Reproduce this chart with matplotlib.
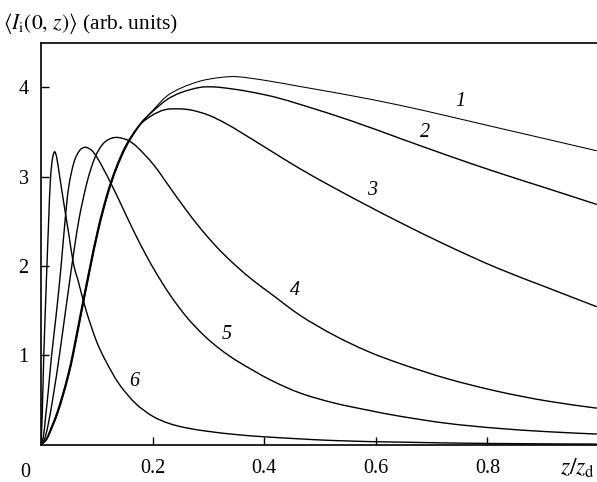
import numpy as np
import matplotlib
matplotlib.use("Agg")
import matplotlib.pyplot as plt
from matplotlib.path import Path
from matplotlib.patches import PathPatch

# values (z / z_d, intensity in arb. units)
z1 = [0, 0.01, 0.022, 0.03, 0.04, 0.05, 0.058, 0.073, 0.088, 0.104, 0.12, 0.135, 0.155,
      0.18, 0.2, 0.225, 0.25, 0.285, 0.32, 0.35, 0.4, 0.464, 0.554, 0.643, 0.728,
      0.817, 0.907, 0.996]
v1 = [0, 0.06, 0.22, 0.35, 0.55, 0.78, 1.0, 1.48, 1.95, 2.42, 2.80, 3.08, 3.36,
      3.6, 3.74, 3.90, 3.99, 4.07, 4.11, 4.12, 4.08, 4.01, 3.91, 3.80, 3.68,
      3.55, 3.42, 3.29]

z2 = [0, 0.01, 0.021, 0.029, 0.039, 0.049, 0.057, 0.072, 0.087, 0.103, 0.119, 0.134, 0.154,
      0.179, 0.2, 0.225, 0.25, 0.285, 0.31, 0.34, 0.375, 0.42, 0.464, 0.554, 0.643, 0.728,
      0.817, 0.907, 0.996]
v2 = [0, 0.06, 0.22, 0.35, 0.55, 0.78, 1.0, 1.48, 1.95, 2.42, 2.80, 3.08, 3.36,
      3.6, 3.73, 3.86, 3.94, 4.0, 4.005, 3.985, 3.95, 3.89, 3.81, 3.63, 3.43, 3.24,
      3.05, 2.87, 2.69]

z3 = [0, 0.009, 0.02, 0.028, 0.038, 0.048, 0.056, 0.071, 0.086, 0.102, 0.118, 0.133, 0.152,
      0.177, 0.2, 0.222, 0.246, 0.27, 0.3, 0.33, 0.36, 0.404, 0.464, 0.524, 0.584,
      0.643, 0.728, 0.817, 0.907, 0.996]
v3 = [0, 0.06, 0.22, 0.35, 0.55, 0.78, 1.0, 1.48, 1.95, 2.42, 2.80, 3.08, 3.35,
      3.58, 3.69, 3.75, 3.76, 3.745, 3.69, 3.6, 3.49, 3.32, 3.09, 2.88, 2.68,
      2.49, 2.23, 1.98, 1.76, 1.545]

z4 = [0, 0.006, 0.012, 0.022, 0.033, 0.054, 0.068, 0.083, 0.097, 0.11, 0.122, 0.136, 0.155,
      0.171, 0.201, 0.231, 0.261, 0.29, 0.32, 0.35, 0.38, 0.41, 0.464, 0.524,
      0.584, 0.643, 0.728, 0.817, 0.907, 0.996]
v4 = [0, 0.06, 0.2, 0.55, 1.0, 1.95, 2.52, 2.95, 3.22, 3.36, 3.42, 3.44, 3.41,
      3.34, 3.14, 2.88, 2.62, 2.39, 2.18, 2.0, 1.84, 1.70, 1.45, 1.23,
      1.05, 0.91, 0.74, 0.60, 0.49, 0.41]

z5 = [0, 0.004, 0.008, 0.013, 0.019, 0.028, 0.036, 0.043, 0.05, 0.06, 0.07, 0.079,
      0.09, 0.1, 0.11, 0.125, 0.142, 0.171, 0.201, 0.231, 0.261, 0.291, 0.321,
      0.351, 0.41, 0.464, 0.524, 0.584, 0.643, 0.728, 0.817, 0.907, 0.996]
v5 = [0, 0.08, 0.3, 0.6, 1.0, 1.5, 2.0, 2.5, 2.9, 3.18, 3.3, 3.33,
      3.3, 3.22, 3.11, 2.93, 2.71, 2.33, 1.98, 1.68, 1.43, 1.23, 1.07,
      0.94, 0.73, 0.58, 0.47, 0.39, 0.32, 0.24, 0.185, 0.147, 0.12]

z6 = [0, 0.002, 0.005, 0.008, 0.0106, 0.014, 0.0172, 0.021, 0.0245, 0.028, 0.0335,
      0.042, 0.05, 0.059, 0.066, 0.081, 0.1, 0.115, 0.14, 0.17, 0.2, 0.229,
      0.26, 0.3, 0.349, 0.404, 0.524, 0.643, 0.8, 0.996]
v6 = [0, 0.3, 1.0, 1.55, 2.0, 2.55, 3.0, 3.22, 3.28, 3.22, 3.0,
      2.66, 2.35, 2.0, 1.85, 1.5, 1.15, 0.95, 0.68, 0.46, 0.32, 0.24,
      0.19, 0.15, 0.115, 0.088, 0.048, 0.03, 0.015, 0.008]

curves = [(z1, v1), (z2, v2), (z3, v3), (z4, v4), (z5, v5), (z6, v6)]
curve_names = ['1', '2', '3', '4', '5', '6']
name_pos = [(0.751, 3.84), (0.688, 3.49), (0.593, 2.85),
            (0.455, 1.73), (0.333, 1.23), (0.1675, 0.71)]
widths = [0.75, 1.0, 1.0, 1.0, 1.0, 1.0]

xticks = [0.2, 0.4, 0.6, 0.8]
xticklabels = ['0.2', '0.4', '0.6', '0.8']
yticks = [1, 2, 3, 4]


def smooth_path(zz, vv, sx=558.0, sy=89.4):
    # smooth curve through the read points (cubic Bezier pieces)
    P = np.column_stack([np.asarray(zz) * sx, np.asarray(vv) * sy])
    n = len(P)
    d = np.linalg.norm(np.diff(P, axis=0), axis=1)
    T = np.zeros_like(P)
    T[0] = (P[1] - P[0]) / d[0]
    T[-1] = (P[-1] - P[-2]) / d[-1]
    for i in range(1, n - 1):
        T[i] = (P[i + 1] - P[i - 1]) / (d[i - 1] + d[i])
    verts = [P[0]]
    codes = [Path.MOVETO]
    for i in range(n - 1):
        verts += [P[i] + T[i] * d[i] / 3, P[i + 1] - T[i + 1] * d[i] / 3, P[i + 1]]
        codes += [Path.CURVE4] * 3
    verts = np.array(verts) / [sx, sy]
    return Path(verts, codes)


plt.rcParams['font.family'] = ['Liberation Serif', 'DejaVu Serif']
plt.rcParams['mathtext.fontset'] = 'stix'

fig = plt.figure(figsize=(5.97, 4.82), dpi=100)
ax = fig.add_axes([41 / 597, 1 - 444.8 / 482, 1 - 41 / 597, (444.8 - 42.7) / 482])

for (zz, vv), lw in zip(curves, widths):
    ax.add_patch(PathPatch(smooth_path(zz, vv), fill=False, edgecolor='black',
                           lw=lw, transform=ax.transData, clip_on=True))

for name, (tx, ty) in zip(curve_names, name_pos):
    ax.text(tx, ty, name, fontsize=14.5, style='italic', ha='center', va='center')

ax.set_xlim(0, 0.9964)
ax.set_ylim(0, 4.5)
ax.set_xticks(xticks)
ax.set_xticklabels(xticklabels)
ax.set_yticks(yticks)
ax.tick_params(direction='in', length=6, width=1.0, labelsize=14.5)
ax.tick_params(axis='x', pad=10)
ax.tick_params(axis='y', pad=9)
ax.spines['right'].set_visible(False)
for s in ['left', 'bottom', 'top']:
    ax.spines[s].set_linewidth(1.2)

# corner zero and axis titles
ax.text(-0.029, -0.069, '0', transform=ax.transAxes, fontsize=14.5,
        ha='center', va='center')
ax.text(0.93, -0.33, r'$z/z_{\rm d}$', fontsize=17, ha='left', va='baseline',
        clip_on=False)
fig.text(0.005, 1 - 28.5 / 482, r'$\langle I_{\rm i}(0,\,z)\rangle$ (arb. units)',
         fontsize=15.5, ha='left', va='baseline')

fig.savefig('out.png', dpi=100)
